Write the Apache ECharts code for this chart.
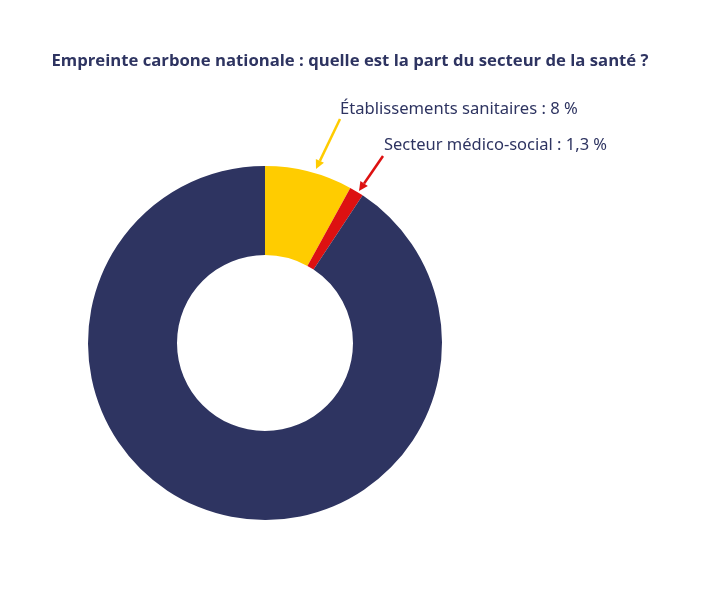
<!DOCTYPE html>
<html><head><meta charset="utf-8">
<script src="https://cdn.jsdelivr.net/npm/echarts@6/dist/echarts.min.js"></script>
<style>html,body{margin:0;padding:0;background:#fff}#c{width:705px;height:591px}</style>
</head><body><div id="c"></div>
<script>
const categories = ['Établissements sanitaires', 'Secteur médico-social', 'Reste de l\'empreinte carbone'];
const values = [8, 1.3, 90.7];
const colors = ['#ffcc00', '#dd1111', '#2e3461'];
const labelTexts = ['Établissements sanitaires : 8 %', 'Secteur médico-social : 1,3 %'];

function arrow(x1, y1, x2, y2, color) {
  const ang = Math.atan2(y2 - y1, x2 - x1);
  const L = 9, W = 4.5;
  const bx = x2 - L * Math.cos(ang), by = y2 - L * Math.sin(ang);
  const px = -Math.sin(ang) * W, py = Math.cos(ang) * W;
  return [
    { type: 'line', shape: { x1: x1, y1: y1, x2: bx, y2: by }, style: { stroke: color, lineWidth: 2.5 } },
    { type: 'polygon', shape: { points: [[x2, y2], [bx + px, by + py], [bx - px, by - py]] }, style: { fill: color } }
  ];
}

const chart = echarts.init(document.getElementById('c'));
chart.setOption({
  animation: false,
  title: {
    text: 'Empreinte carbone nationale : quelle est la part du secteur de la santé ?',
    left: 345, top: 48, textAlign: 'center',
    textStyle: { fontFamily: 'Open Sans', fontWeight: 'bold', fontSize: 16.7, color: '#2e3461' }
  },
  series: [{
    type: 'pie',
    center: [265, 343],
    radius: [88, 177],
    startAngle: 90,
    clockwise: true,
    label: { show: false },
    labelLine: { show: false },
    itemStyle: { borderWidth: 0 },
    emphasis: { disabled: true },
    data: categories.map((c, i) => ({ name: c, value: values[i], itemStyle: { color: colors[i] } }))
  }],
  graphic: [
    { type: 'text', left: 340, top: 101, style: { text: labelTexts[0], fontFamily: 'Noto Sans', fontSize: 16.6, fill: '#2e3461' } },
    { type: 'text', left: 384, top: 137, style: { text: labelTexts[1], fontFamily: 'Noto Sans', fontSize: 16.5, fill: '#2e3461' } },
    ...arrow(340, 119, 316, 169, '#ffcc00'),
    ...arrow(383, 156, 359, 191, '#dd1111')
  ]
});
</script></body></html>
